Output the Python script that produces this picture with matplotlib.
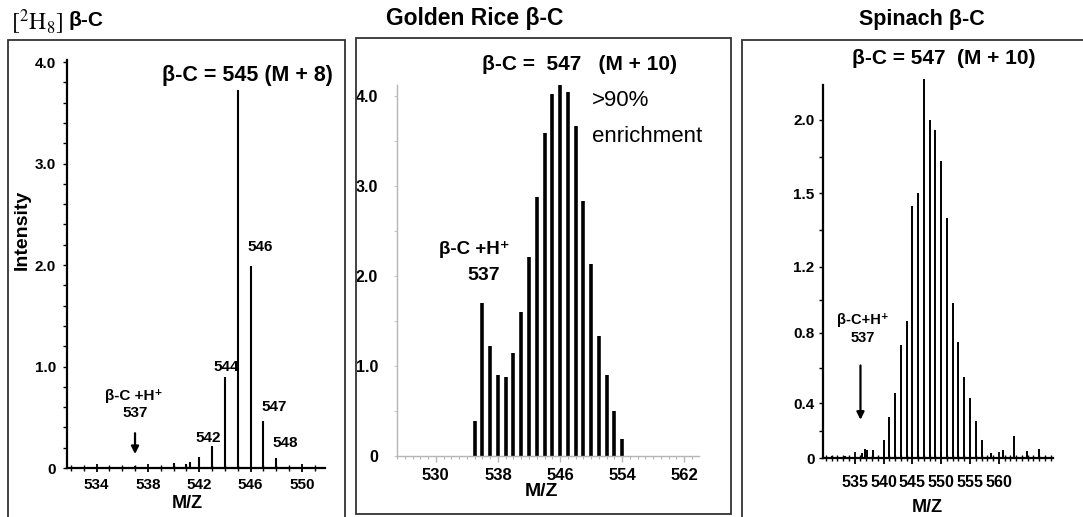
import numpy as np
import matplotlib.pyplot as plt
from matplotlib.patches import Rectangle
from matplotlib.ticker import MultipleLocator, FixedLocator

plt.rcParams['font.family'] = ['Liberation Sans', 'DejaVu Sans']

W, H = 1083, 517

# [2H8] beta-C standard
mz_std = [537, 540, 541, 541.3, 542, 543, 544, 545, 546, 547, 548]
int_std = [0.02, 0.05, 0.04, 0.06, 0.11, 0.22, 0.90, 3.72, 1.99, 0.46, 0.10]

# Golden Rice beta-C
mz_rice = list(range(535, 555))
int_rice = [0.39, 1.70, 1.22, 0.90, 0.88, 1.14, 1.60, 2.21, 2.88, 3.59,
            4.02, 4.12, 4.04, 3.67, 2.83, 2.13, 1.33, 0.90, 0.50, 0.19]

# Spinach beta-C
mz_spin = [531, 533.3, 536.2, 536.7, 537.1, 538.1] + list(range(540, 558)) + \
          [558.6, 560.7, 562.7, 564.9, 566.9]
int_spin = [0.02, 0.02, 0.04, 0.07, 0.06, 0.06,
            0.13, 0.30, 0.46, 0.73, 0.87, 1.45, 1.50, 2.28, 2.00, 1.93,
            1.72, 1.40, 0.98, 0.75, 0.55, 0.43, 0.27, 0.13,
            0.04, 0.06, 0.16, 0.05, 0.07]

y_std = [0, 1, 2, 3, 4]
y_std_lbl = ['0', '1.0', '2.0', '3.0', '4.0']
x_std = [534, 538, 542, 546, 550]
x_rice = [530, 538, 546, 554, 562]
y_spin = [0, 0.4, 0.8, 1.2, 1.5, 2.0]
y_spin_lbl = ['0', '0.4', '0.8', '1.2', '1.5', '2.0']
x_spin = [535, 540, 545, 550, 555, 560]


def px(x, y):
    return x / W, 1 - y / H


def box(l, b, w, h):
    return [l / W, (H - b) / H, w / W, h / H]


fig = plt.figure(figsize=(W / 100, H / 100), dpi=100)

# panel frames
for x0, x1, y0, y1 in [(8, 345, 40, 530), (356, 731, 38, 514), (742, 1100, 40, 530)]:
    fig.add_artist(Rectangle(px(x0, y1), (x1 - x0) / W, (y1 - y0) / H,
                             transform=fig.transFigure, fill=False,
                             ec='#333333', lw=1.3))

# ---- panel 1
ax1 = fig.add_axes(box(67, 468, 258, 408))
ax1.vlines(mz_std, 0, int_std, color='k', lw=1.5)
ax1.set_xlim(531.7, 551.8)
ax1.set_ylim(0, 4.02)
ax1.set_xticks(x_std, [str(v) for v in x_std], fontweight='bold', fontsize=11)
ax1.set_yticks(y_std, y_std_lbl, fontweight='bold', fontsize=11)
ax1.xaxis.set_minor_locator(MultipleLocator(1))
ax1.yaxis.set_minor_locator(MultipleLocator(0.2))
ax1.tick_params(axis='x', which='major', direction='inout', length=6, width=1.3, pad=4)
ax1.tick_params(axis='x', which='minor', direction='inout', length=4, width=1)
ax1.tick_params(axis='y', which='both', direction='out', length=3, width=1, pad=5)
ax1.annotate('', xy=(537, 0.11), xytext=(537, 0.37),
             arrowprops=dict(arrowstyle='-|>', color='k', lw=1.6, mutation_scale=11))

# ---- panel 2
ax2 = fig.add_axes(box(397, 456, 302, 371))
ax2.vlines(mz_rice, 0, int_rice, color='k', lw=2.6)
ax2.set_xlim(525, 563.9)
ax2.set_ylim(0, 4.12)
ax2.set_xticks(x_rice, [str(v) for v in x_rice], fontweight='bold', fontsize=12)
ax2.set_yticks(y_std, y_std_lbl, fontweight='bold', fontsize=11.5)
ax2.xaxis.set_minor_locator(MultipleLocator(1))
ax2.yaxis.set_minor_locator(MultipleLocator(0.5))
ax2.tick_params(axis='x', which='major', direction='out', length=4, width=1,
                color='#b5b5b5', pad=5)
ax2.tick_params(axis='x', which='minor', direction='out', length=2.5, width=0.8,
                color='#b5b5b5')
ax2.tick_params(axis='y', which='both', direction='out', length=2.5, width=0.8,
                color='#c8c8c8', pad=11)

# ---- panel 3 (uneven intensity axis as printed)
yv = [-1, 0, 0.4, 0.8, 1.2, 1.5, 2.0, 3.0]
yp = [-137.5, 0, 55, 125.6, 191.6, 265, 338.3, 485]
ax3 = fig.add_axes(box(823, 458.3, 230, 379.4))
ax3.set_yscale('function', functions=(lambda y: np.interp(y, yv, yp),
                                      lambda p: np.interp(p, yp, yv)))
ax3.vlines(mz_spin, 0, int_spin, color='k', lw=1.4)
ax3.set_xlim(529.5, 569.4)
ax3.set_ylim(0, 2.28)
ax3.spines['left'].set_bounds(0, 2.24)
ax3.set_xticks(x_spin, [str(v) for v in x_spin], fontweight='bold', fontsize=11.5)
ax3.set_yticks(y_spin, y_spin_lbl, fontweight='bold', fontsize=11)
ax3.xaxis.set_minor_locator(MultipleLocator(1))
ax3.yaxis.set_minor_locator(FixedLocator([0.2, 0.6, 1.0, 1.35, 1.75]))
ax3.tick_params(axis='x', which='major', direction='inout', length=8, width=1.3, pad=8)
ax3.tick_params(axis='x', which='minor', direction='inout', length=5, width=1)
ax3.tick_params(axis='y', which='both', direction='out', length=3, width=1, pad=3)
ax3.annotate('', xy=(536, 0.26), xytext=(536, 0.63),
             arrowprops=dict(arrowstyle='-|>', color='k', lw=1.6, mutation_scale=11))

for ax in (ax1, ax3):
    for s in ('left', 'bottom'):
        ax.spines[s].set_linewidth(1.6)
for ax in (ax1, ax2, ax3):
    ax.spines['top'].set_visible(False)
    ax.spines['right'].set_visible(False)
    ax.patch.set_alpha(0)
for s in ('left', 'bottom'):
    ax2.spines[s].set_color('#b5b5b5')
    ax2.spines[s].set_linewidth(1.0)

# ---- titles and annotations
fig.text(*px(11, 22), r'$[^{2}\mathrm{H}_{8}]$', math_fontfamily='stix',
         fontsize=17, ha='left', va='center')
fig.text(*px(69, 21), 'β-C', fontsize=15, fontweight='bold', ha='left', va='center')
fig.text(*px(475, 19), 'Golden Rice β-C', fontsize=16.5, fontweight='bold',
         ha='center', va='center')
fig.text(*px(922, 19), 'Spinach β-C', fontsize=15.5, fontweight='bold',
         ha='center', va='center')

fig.text(*px(247, 75), 'β-C = 545 (M + 8)', fontsize=15.5, fontweight='bold',
         ha='center', va='center')
for lbl, x, y in [('546', 260, 247), ('544', 226, 367), ('542', 208, 438),
                  ('547', 274, 407), ('548', 285, 443)]:
    fig.text(*px(x, y), lbl, fontsize=11, fontweight='bold', ha='center', va='center')
fig.text(*px(134, 396), 'β-C +H⁺', fontsize=11, fontweight='bold', ha='center', va='center')
fig.text(*px(135, 413), '537', fontsize=11, fontweight='bold', ha='center', va='center')
fig.text(*px(22, 230), 'Intensity', fontsize=14, fontweight='bold', rotation=90,
         ha='center', va='center')
fig.text(*px(187, 503), 'M/Z', fontsize=13, fontweight='bold', ha='center', va='center')

fig.text(*px(579, 65), 'β-C =  547   (M + 10)', fontsize=15, fontweight='bold',
         ha='center', va='center')
fig.text(*px(592, 100), '>90%', fontsize=16, ha='left', va='center')
fig.text(*px(592, 136), 'enrichment', fontsize=16, ha='left', va='center')
fig.text(*px(474, 249), 'β-C +H⁺', fontsize=13.5, fontweight='bold', ha='center', va='center')
fig.text(*px(484, 276), '537', fontsize=14, fontweight='bold', ha='center', va='center')
fig.text(*px(541, 492), 'M/Z', fontsize=14, fontweight='bold', ha='center', va='center')

fig.text(*px(944, 59), 'β-C = 547  (M + 10)', fontsize=15, fontweight='bold',
         ha='center', va='center')
fig.text(*px(863, 320), 'β-C+H⁺', fontsize=10.5, fontweight='bold', ha='center', va='center')
fig.text(*px(863, 338), '537', fontsize=10.5, fontweight='bold', ha='center', va='center')
fig.text(*px(927, 507), 'M/Z', fontsize=13, fontweight='bold', ha='center', va='center')

fig.savefig('out.png', dpi=100)
